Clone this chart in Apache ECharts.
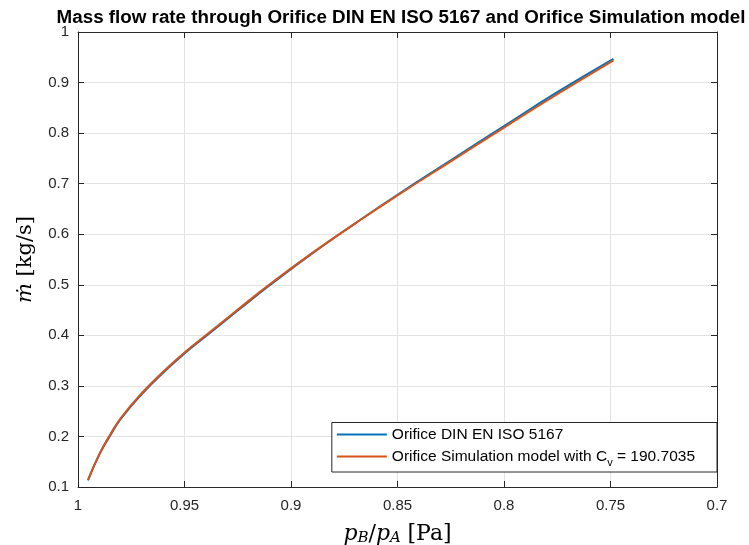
<!DOCTYPE html>
<html style="height: 100%">
<head>
<meta charset="utf-8">
<script src="https://cdn.jsdelivr.net/npm/echarts@6/dist/echarts.min.js"></script>
</head>
<body style="height: 100%; margin: 0; background: #fff">
<div id="container" style="width: 749px; height: 545px"></div>
<script type="text/javascript">
// pressure ratio pB/pA
var pressureRatio = [0.9953, 0.99, 0.985, 0.98, 0.97, 0.96, 0.95, 0.94, 0.925, 0.91, 0.89, 0.87, 0.85, 0.825, 0.8, 0.775, 0.7486];
// mass flow, DIN EN ISO 5167
var flowDin = [0.113, 0.164, 0.201, 0.234, 0.284, 0.326, 0.364, 0.398, 0.449, 0.499, 0.562, 0.621, 0.678, 0.746, 0.814, 0.881, 0.947];
// mass flow, simulation model
var flowSim = [0.114, 0.165, 0.203, 0.236, 0.286, 0.328, 0.366, 0.400, 0.451, 0.501, 0.563, 0.621, 0.677, 0.744, 0.811, 0.877, 0.944];
var seriesNames = ['Orifice DIN EN ISO 5167', 'Orifice Simulation model with C{sub|v} = 190.7035'];

function pairs(ys) {
  return pressureRatio.map(function (x, i) { return [x, ys[i]]; });
}

var dom = document.getElementById('container');
var myChart = echarts.init(dom);
var axisColor = '#262626';
var gridColor = '#e3e3e3';

var option = {
  animation: false,
  title: {
    text: 'Mass flow rate through Orifice DIN EN ISO 5167 and Orifice Simulation model',
    left: 396,
    textAlign: 'center',
    top: 3,
    textStyle: { fontFamily: 'Liberation Sans', fontSize: 18.8, fontWeight: 'bold', color: '#000' }
  },
  grid: { left: 78, right: 32, top: 32, bottom: 58, outerBoundsMode: 'none', containLabel: false },
  legend: {
    orient: 'vertical',
    right: 32,
    bottom: 73,
    backgroundColor: '#fff',
    borderColor: axisColor,
    borderWidth: 1,
    padding: [4, 22, 4, 5],
    itemGap: 6,
    itemWidth: 50,
    itemHeight: 2,
    icon: 'rect',
    data: seriesNames,
    textStyle: {
      fontFamily: 'Liberation Sans', fontSize: 15.5, color: '#000',
      rich: { sub: { fontFamily: 'Liberation Sans', fontSize: 11, verticalAlign: 'bottom', padding: [12, 0, 0, 0], color: '#000' } }
    }
  },
  xAxis: [
    {
      type: 'value', min: 0.7, max: 1, interval: 0.05, inverse: true,
      name: '{i|p}{s|B}{n|/}{i|p}{s|A}  {n|[Pa]}',
      nameLocation: 'middle', nameGap: 35,
      nameTextStyle: {
        rich: {
          i: { fontFamily: 'DejaVu Serif', fontStyle: 'italic', fontSize: 22, color: '#000' },
          s: { fontFamily: 'DejaVu Serif', fontStyle: 'italic', fontSize: 15, color: '#000', padding: [9, 0, 0, 0] },
          n: { fontFamily: 'DejaVu Serif', fontSize: 22, color: '#000' }
        }
      },
      axisLine: { lineStyle: { color: axisColor } },
      axisTick: { inside: true, length: 6, lineStyle: { color: axisColor } },
      axisLabel: { fontFamily: 'Liberation Sans', fontSize: 15, color: axisColor, margin: 11 },
      splitLine: { show: true, lineStyle: { color: gridColor } }
    },
    {
      type: 'value', min: 0.7, max: 1, interval: 0.05, inverse: true, position: 'top',
      axisLine: { show: true, lineStyle: { color: axisColor } },
      axisTick: { show: true, inside: true, length: 6, lineStyle: { color: axisColor } },
      axisLabel: { show: false },
      splitLine: { show: false }
    }
  ],
  yAxis: [
    {
      type: 'value', min: 0.1, max: 1, interval: 0.1,
      name: '{i|ṁ}  {n|[kg/s]}',
      nameLocation: 'middle', nameGap: 42, nameRotate: 90,
      nameTextStyle: {
        rich: {
          i: { fontFamily: 'DejaVu Serif', fontStyle: 'italic', fontSize: 21, color: '#000' },
          n: { fontFamily: 'DejaVu Serif', fontSize: 21, color: '#000' }
        }
      },
      axisLine: { show: true, lineStyle: { color: axisColor } },
      axisTick: { show: true, inside: true, length: 6, lineStyle: { color: axisColor } },
      axisLabel: { fontFamily: 'Liberation Sans', fontSize: 15, color: axisColor, margin: 9 },
      splitLine: { show: true, lineStyle: { color: gridColor } }
    },
    {
      type: 'value', min: 0.1, max: 1, interval: 0.1, position: 'right',
      axisLine: { show: true, lineStyle: { color: axisColor } },
      axisTick: { show: true, inside: true, length: 6, lineStyle: { color: axisColor } },
      axisLabel: { show: false },
      splitLine: { show: false }
    }
  ],
  series: [
    {
      name: seriesNames[0], type: 'line', smooth: true, showSymbol: false,
      color: '#0072BD', lineStyle: { width: 2 },
      data: pairs(flowDin)
    },
    {
      name: seriesNames[1], type: 'line', smooth: true, showSymbol: false,
      color: '#D95319', lineStyle: { width: 2 },
      data: pairs(flowSim)
    }
  ]
};

myChart.setOption(option, true);
</script>
</body>
</html>
